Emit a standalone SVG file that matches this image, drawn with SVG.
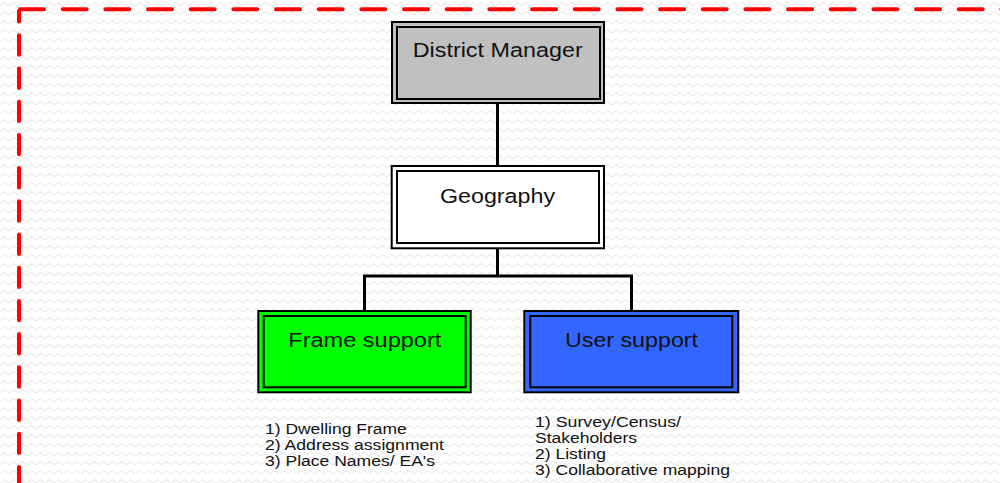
<svg xmlns="http://www.w3.org/2000/svg" width="1000" height="483" viewBox="0 0 1000 483">
<defs>
<pattern id="zz" width="9" height="9" patternUnits="userSpaceOnUse">
<path d="M0,6 L4.5,2.5 L9,6" fill="none" stroke="#ececec" stroke-width="1.2"/>
</pattern>
<style>
.o{stroke:#000;stroke-width:2}
.i{fill:none;stroke:#000;stroke-width:2}
.t{font-family:"Liberation Sans",Arial,sans-serif;font-size:19.5px;fill:#111}
.l{font-family:"Liberation Sans",Arial,sans-serif;font-size:14px;fill:#111}
.c{fill:none;stroke:#000;stroke-width:3}
.b{fill:none;stroke:#ff0000;stroke-width:4;stroke-linecap:round}
</style>
</defs>
<rect width="1000" height="483" fill="#ffffff"/>
<rect width="1000" height="483" fill="url(#zz)"/>
<g id="border">
<line class="b" x1="20" y1="9.3" x2="1002" y2="9.3" stroke-dasharray="24 18.67"/>
<line class="b" x1="19" y1="11" x2="19" y2="485" stroke-dasharray="19.4 13.8" stroke-dashoffset="8.9"/>
</g>
<g id="connectors">
<path class="c" d="M497.5,104 V165"/>
<path class="c" d="M497.5,249 V276"/>
<path class="c" d="M364.5,310 V276 H631.5 V310"/>
</g>
<g id="district-manager">
<rect class="o" x="392" y="22" width="212" height="81" fill="#c0c0c0"/>
<rect class="i" x="397" y="27" width="203" height="72"/>
<text class="t" x="412.7" y="56.7" textLength="170" lengthAdjust="spacingAndGlyphs">District Manager</text>
</g>
<g id="geography">
<rect class="o" x="391.7" y="166" width="212.3" height="82.3" fill="#ffffff"/>
<rect class="i" x="397" y="171" width="202" height="72"/>
<text class="t" x="440" y="202.7" textLength="115" lengthAdjust="spacingAndGlyphs">Geography</text>
</g>
<g id="frame-support">
<rect class="o" x="258.3" y="311" width="212.4" height="81.3" fill="#00ff00"/>
<rect class="i" x="263.7" y="316" width="202" height="71.3"/>
<text class="t" x="288.3" y="346.7" textLength="153" lengthAdjust="spacingAndGlyphs">Frame support</text>
</g>
<g id="user-support">
<rect class="o" x="524.3" y="311" width="214" height="81.3" fill="#3366ff"/>
<rect class="i" x="530.3" y="316" width="202" height="71.3"/>
<text class="t" x="565" y="346.7" textLength="133" lengthAdjust="spacingAndGlyphs">User support</text>
</g>
<g id="frame-list">
<text class="l" x="265" y="434" textLength="141.7" lengthAdjust="spacingAndGlyphs">1) Dwelling Frame</text>
<text class="l" x="265" y="450" textLength="179" lengthAdjust="spacingAndGlyphs">2) Address assignment</text>
<text class="l" x="265" y="466" textLength="170" lengthAdjust="spacingAndGlyphs">3) Place Names/ EA's</text>
</g>
<g id="user-list">
<text class="l" x="535" y="426.5" textLength="146" lengthAdjust="spacingAndGlyphs">1) Survey/Census/</text>
<text class="l" x="535" y="443" textLength="102" lengthAdjust="spacingAndGlyphs">Stakeholders</text>
<text class="l" x="535" y="459" textLength="71" lengthAdjust="spacingAndGlyphs">2) Listing</text>
<text class="l" x="535" y="475" textLength="195" lengthAdjust="spacingAndGlyphs">3) Collaborative mapping</text>
</g>
</svg>
